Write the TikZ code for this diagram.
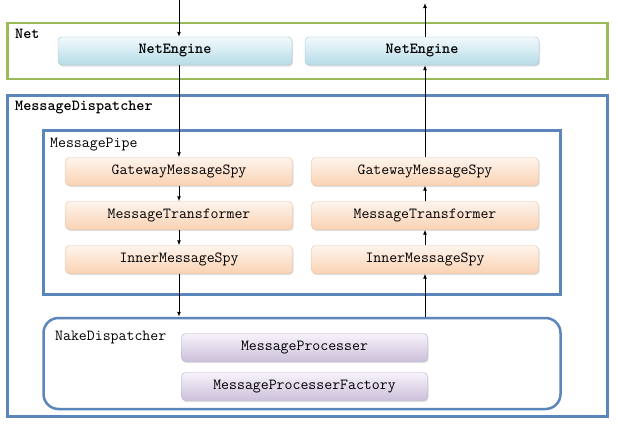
\documentclass[tikz,border=0pt]{standalone}
\usepackage{fontspec}
\usetikzlibrary{positioning, shadows, arrows.meta}

\definecolor{netgreen}{HTML}{9BBB59}
\definecolor{pipeblue}{HTML}{5B86BC}
\definecolor{blueTop}{HTML}{F2F9FC}
\definecolor{blueBot}{HTML}{B5DCE7}
\definecolor{blueLine}{HTML}{A6C4CF}
\definecolor{orangeTop}{HTML}{FEF4EC}
\definecolor{orangeBot}{HTML}{FAD2B3}
\definecolor{orangeLine}{HTML}{E5C2A6}
\definecolor{purpleTop}{HTML}{F7F3FA}
\definecolor{purpleBot}{HTML}{CBC0DA}
\definecolor{purpleLine}{HTML}{B8ADC9}
\newcommand\codesize{\fontsize{15.4}{18}\selectfont}

\begin{document}
\begin{tikzpicture}[x=1pt,y=-1pt,node distance=44pt,on grid,
  >={Latex[length=5pt,width=4pt]},
  every node/.style={font=\ttfamily\codesize,inner sep=0pt}]
\useasboundingbox[fill=white] (0,0) rectangle (618,431);
\tikzset{group/.style={draw=#1,line width=2.5pt}}
\tikzset{tag/.style={anchor=base west}}
\tikzset{heavy/.style={font=\ttfamily\bfseries\codesize}}
\tikzset{box/.style={draw=#1Line,top color=#1Top,bottom color=#1Bot,rounded corners=4pt,
  minimum height=28pt,drop shadow={shadow xshift=1pt,shadow yshift=-1.5pt,opacity=0.25}}}
\tikzset{flow/.style={->,line width=0.9pt}}

% containers
\node[group=netgreen,minimum width=600pt,minimum height=56pt] (Net) at (307.5,51) {};
\node[group=pipeblue,minimum width=600pt,minimum height=321pt] (MD) at (307.5,256) {};
\node[group=pipeblue,minimum width=517pt,minimum height=164pt] (MP) at (302,212.5) {};
\node[group=pipeblue,minimum width=517pt,minimum height=91pt,rounded corners=15pt] (ND) at (302,363.5) {};

\node[tag,heavy] at (15,38) {Net};
\node[tag,heavy] at (15,110) {MessageDispatcher};
\node[tag] at (50,147) {MessagePipe};
\node[tag] at (55,340) {NakeDispatcher};

% engines
\node[box=blue,heavy,minimum width=234pt] (NEa) at (175,51) {NetEngine};
\node[box=blue,heavy,minimum width=234pt] (NEb) at (422,51) {NetEngine};

% pipe, in and out
\node[box=orange,minimum width=227pt] (GMSa) at (179,171.5) {GatewayMessageSpy};
\node[box=orange,minimum width=227pt] (MTa)  [below =of GMSa] {MessageTransformer};
\node[box=orange,minimum width=227pt] (IMSa) [below =of MTa]  {InnerMessageSpy};
\node[box=orange,minimum width=227pt] (GMSb) [right =246pt of GMSa] {GatewayMessageSpy};
\node[box=orange,minimum width=227pt] (MTb)  [below =of GMSb] {MessageTransformer};
\node[box=orange,minimum width=227pt] (IMSb) [below =of MTb]  {InnerMessageSpy};

% processers
\node[box=purple,minimum width=246pt] (MPr) at (304.5,347.5) {MessageProcesser};
\node[box=purple,minimum width=246pt] (MPF) [below =39pt of MPr] {MessageProcesserFactory};

\coordinate (in) at (179,0);
\coordinate (out) at (425,3);

\draw[flow] (in) -- (in |- NEa.north);
\draw[flow] (in |- NEa.south) -- (GMSa.north);
\draw[flow] (GMSa) -- (MTa);
\draw[flow] (MTa) -- (IMSa);
\draw[flow] (IMSa) -- (IMSa |- ND.north);
\draw[flow] (IMSb |- ND.north) -- (IMSb);
\draw[flow] (IMSb) -- (MTb);
\draw[flow] (MTb) -- (GMSb);
\draw[flow] (GMSb) -- (GMSb |- NEb.south);
\draw[flow] (out |- NEb.north) -- (out);
\end{tikzpicture}
\end{document}
